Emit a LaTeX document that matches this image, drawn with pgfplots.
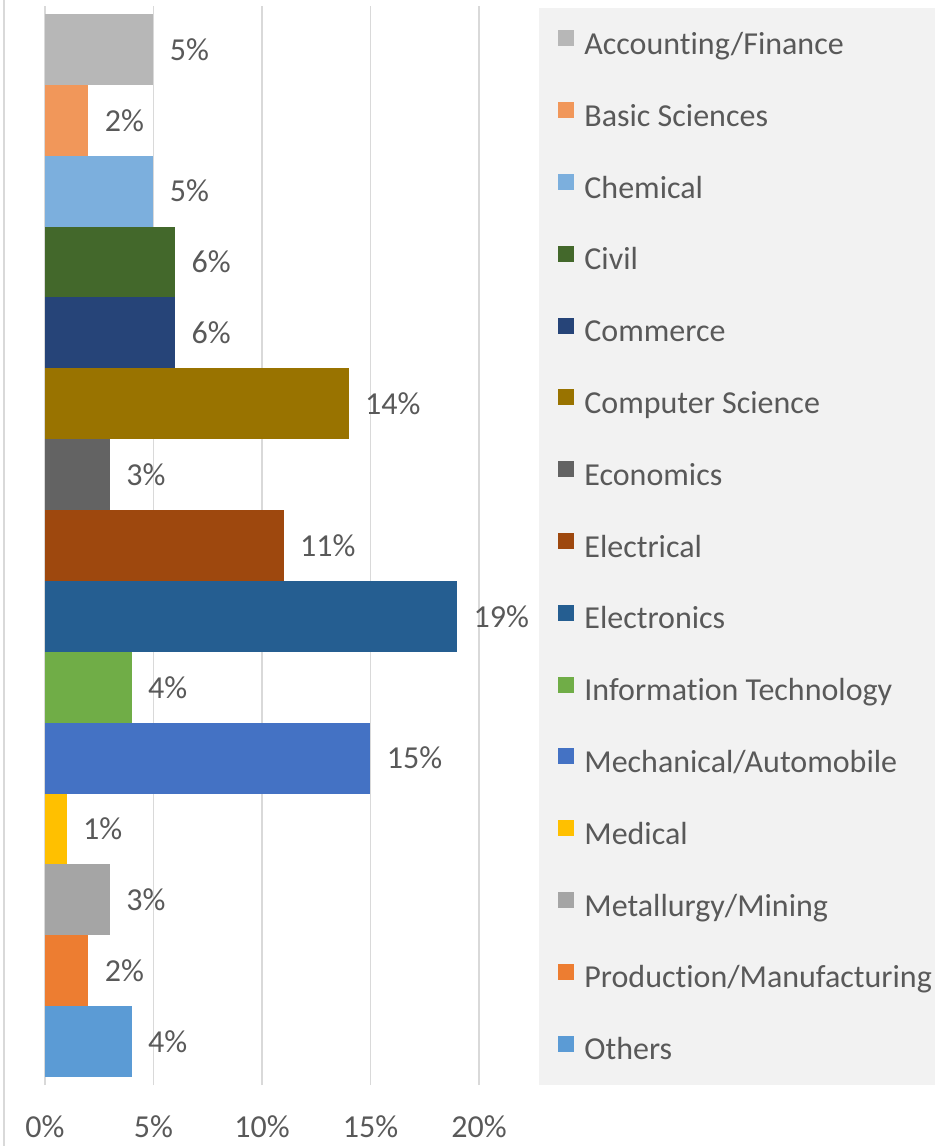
\documentclass[border=0pt]{standalone}
\usepackage{pgfplots}
\pgfplotsset{compat=1.18}
\usepackage{fontspec}
\setmainfont{Carlito}[Ligatures=NoCommon]
\definecolor{txt}{HTML}{595959}
\definecolor{gridc}{HTML}{D9D9D9}
\definecolor{lgbg}{HTML}{F2F2F2}
\definecolor{cAcc}{HTML}{B7B7B7}
\definecolor{cBas}{HTML}{F1975A}
\definecolor{cChe}{HTML}{7CAFDD}
\definecolor{cCiv}{HTML}{43682B}
\definecolor{cCom}{HTML}{264478}
\definecolor{cCS}{HTML}{997300}
\definecolor{cEco}{HTML}{636363}
\definecolor{cEle}{HTML}{9E480E}
\definecolor{cElc}{HTML}{255E91}
\definecolor{cIT}{HTML}{70AD47}
\definecolor{cMec}{HTML}{4472C4}
\definecolor{cMed}{HTML}{FFC000}
\definecolor{cMet}{HTML}{A5A5A5}
\definecolor{cPro}{HTML}{ED7D31}
\definecolor{cOth}{HTML}{5B9BD5}
\begin{document}
\begin{tikzpicture}
\useasboundingbox (-22.5pt,-30.5pt) rectangle (445pt,542.5pt);
\fill[lgbg] (247pt,0pt) rectangle (445pt,538.5pt);
\draw[gridc, line width=0.75pt] (-20.5pt,-30.5pt) -- (-20.5pt,542.5pt);
\begin{axis}[
  at={(0pt,0pt)}, anchor=south west,
  scale only axis, width=217pt, height=539.5pt,
  xmin=0, xmax=20, ymin=0.387, ymax=15.613,
  xbar, bar width=1, bar shift=0pt,
  clip=false,
  axis lines=left, axis line style={draw=none},
  major tick length=0pt,
  xtick={0,5,10,15,20}, ytick=\empty,
  xmajorgrids, grid style={gridc, line width=0.75pt},
  /pgf/number format/assume math mode=true,
  xticklabel={\pgfmathprintnumber{\tick}\%},
  xticklabel style={anchor=center, yshift=-21pt, font=\fontsize{16}{19}\selectfont, text=txt},
  nodes near coords={\pgfmathprintnumber{\pgfplotspointmeta}\%},
  every node near coord/.append style={font=\fontsize{16}{19}\selectfont, text=txt, inner sep=0pt, anchor=west, xshift=8pt},
  legend image code/.code={\fill[#1] (0pt,0pt) rectangle (8pt,8pt);},
  legend cell align=left,
  legend style={at={(1,1)}, anchor=north west, xshift=39.5pt, yshift=-12pt,
    draw=none, fill=none, inner sep=0pt, row sep=20.9pt, column sep=5pt,
    font=\fontsize{16}{19}\selectfont, text=txt,
    nodes={inner sep=0pt, text height=11pt, text depth=3pt}},
]
\addplot[fill=cAcc, draw=none] coordinates {(5,15)};
\addlegendentry{Accounting/Finance}
\addplot[fill=cBas, draw=none] coordinates {(2,14)};
\addlegendentry{Basic Sciences}
\addplot[fill=cChe, draw=none] coordinates {(5,13)};
\addlegendentry{Chemical}
\addplot[fill=cCiv, draw=none] coordinates {(6,12)};
\addlegendentry{Civil}
\addplot[fill=cCom, draw=none] coordinates {(6,11)};
\addlegendentry{Commerce}
\addplot[fill=cCS, draw=none] coordinates {(14,10)};
\addlegendentry{Computer Science}
\addplot[fill=cEco, draw=none] coordinates {(3,9)};
\addlegendentry{Economics}
\addplot[fill=cEle, draw=none] coordinates {(11,8)};
\addlegendentry{Electrical}
\addplot[fill=cElc, draw=none] coordinates {(19,7)};
\addlegendentry{Electronics}
\addplot[fill=cIT, draw=none] coordinates {(4,6)};
\addlegendentry{Information Technology}
\addplot[fill=cMec, draw=none] coordinates {(15,5)};
\addlegendentry{Mechanical/Automobile}
\addplot[fill=cMed, draw=none] coordinates {(1,4)};
\addlegendentry{Medical}
\addplot[fill=cMet, draw=none] coordinates {(3,3)};
\addlegendentry{Metallurgy/Mining}
\addplot[fill=cPro, draw=none] coordinates {(2,2)};
\addlegendentry{Production/Manufacturing}
\addplot[fill=cOth, draw=none] coordinates {(4,1)};
\addlegendentry{Others}
\end{axis}
\end{tikzpicture}
\end{document}
